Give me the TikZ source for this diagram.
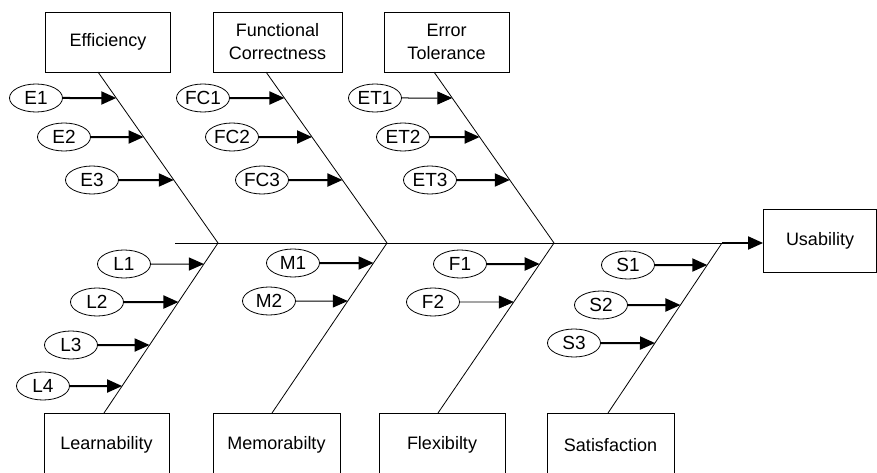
\documentclass[tikz,border=0pt]{standalone}
\usepackage{fontspec}
\setmainfont{Liberation Sans}
\usetikzlibrary{shapes.geometric,arrows.meta,calc}

\tikzset{
  catbox/.style={draw, line width=0.9pt, rectangle, inner sep=0pt, align=center,
                 font=\fontsize{18}{23}\selectfont},
  cause/.style={draw, ellipse, line width=0.8pt, inner sep=0pt,
                minimum width=53pt, minimum height=28pt,
                font=\fontsize{19}{20}\selectfont},
  bone/.style={line width=0.8pt},
  spine/.style={line width=0.9pt},
  heavy/.style={line width=2pt, -{Triangle[length=15pt,width=13pt]}},
  light/.style={line width=1pt, -{Triangle[length=15pt,width=13pt]}},
  faint/.style={line width=0.6pt, -{Triangle[length=15pt,width=13pt]}},
}

\begin{document}
\begin{tikzpicture}[x=1pt,y=-1pt]
\useasboundingbox (0,0) rectangle (877,473);
\clip (0,0) rectangle (877,473);

% category boxes above the spine
\node[catbox, minimum width=125pt, minimum height=60pt] (eff) at (108,42) {Efficiency};
\node[catbox, minimum width=129pt, minimum height=60pt] (fc)  at (277.5,42) {Functional\\Correctness};
\node[catbox, minimum width=125pt, minimum height=60pt] (et)  at (446.5,42) {Error\\Tolerance};

% category boxes below the spine (running off the lower edge)
\node[catbox, minimum width=125pt, minimum height=64pt] (lea)  at (106.5,445) {Learnability};
\node[catbox, minimum width=127pt, minimum height=64pt] (mem)  at (276.5,445) {Memorabilty};
\node[catbox, minimum width=126pt, minimum height=64pt] (flex) at (442,445) {Flexibilty};
\node[catbox, minimum width=127pt, minimum height=64pt] (sat)  at (610.5,445) {Satisfaction};

% effect box
\node[catbox, minimum width=113pt, minimum height=63pt] (usa) at (820,240.5) {Usability};

% spine joints and bone ends
\coordinate (s0) at (175,243);
\coordinate (j1) at (218,243);
\coordinate (j2) at (387,243);
\coordinate (j3) at (554,243);
\coordinate (j4) at (722,243);
\coordinate (b1) at (98,72);
\coordinate (b2) at (266,72);
\coordinate (b3) at (434,72);
\coordinate (c1) at (104,413);
\coordinate (c2) at (272,413);
\coordinate (c3) at (438,413);
\coordinate (c4) at (608,413);

% spine
\draw[spine] (s0) -- (j4);
\draw[heavy] (j4) -- (j4 -| usa.west);

% bones
\draw[bone] (b1) -- (j1);
\draw[bone] (b2) -- (j2);
\draw[bone] (b3) -- (j3);
\draw[bone] (c1) -- (j1);
\draw[bone] (c2) -- (j2);
\draw[bone] (c3) -- (j3);
\draw[bone] (c4) -- (j4);

% causes
\node[cause] (e1) at (36,98)  {E1};
\node[cause] (e2) at (64,137) {E2};
\node[cause] (e3) at (92,180) {E3};
\node[cause] (fc1) at (203,98)  {FC1};
\node[cause] (fc2) at (232,137) {FC2};
\node[cause] (fc3) at (262,180) {FC3};
\node[cause] (et1) at (375,98)  {ET1};
\node[cause] (et2) at (403,137) {ET2};
\node[cause] (et3) at (430,180) {ET3};
\node[cause] (l1) at (124,264) {L1};
\node[cause] (l2) at (97,302)  {L2};
\node[cause] (l3) at (71,345)  {L3};
\node[cause] (l4) at (43,386)  {L4};
\node[cause] (m1) at (293,263) {M1};
\node[cause] (m2) at (269,301) {M2};
\node[cause] (f1) at (460,264) {F1};
\node[cause] (f2) at (433,302) {F2};
\node[cause] (s1) at (628,265) {S1};
\node[cause] (s2) at (601,305) {S2};
\node[cause] (s3) at (574,343) {S3};

% cause arrows, each ending on its bone
\draw[heavy] (e1) -- (intersection of b1--j1 and e1.center--e1.east);
\draw[heavy] (e2) -- (intersection of b1--j1 and e2.center--e2.east);
\draw[heavy] (e3) -- (intersection of b1--j1 and e3.center--e3.east);
\draw[heavy] (fc1) -- (intersection of b2--j2 and fc1.center--fc1.east);
\draw[heavy] (fc2) -- (intersection of b2--j2 and fc2.center--fc2.east);
\draw[heavy] (fc3) -- (intersection of b2--j2 and fc3.center--fc3.east);
\draw[light] (et1) -- (intersection of b3--j3 and et1.center--et1.east);
\draw[heavy] (et2) -- (intersection of b3--j3 and et2.center--et2.east);
\draw[heavy] (et3) -- (intersection of b3--j3 and et3.center--et3.east);
\draw[light] (l1) -- (intersection of c1--j1 and l1.center--l1.east);
\draw[heavy] (l2) -- (intersection of c1--j1 and l2.center--l2.east);
\draw[heavy] (l3) -- (intersection of c1--j1 and l3.center--l3.east);
\draw[heavy] (l4) -- (intersection of c1--j1 and l4.center--l4.east);
\draw[heavy] (m1) -- (intersection of c2--j2 and m1.center--m1.east);
\draw[light] (m2) -- (intersection of c2--j2 and m2.center--m2.east);
\draw[heavy] (f1) -- (intersection of c3--j3 and f1.center--f1.east);
\draw[faint] (f2) -- (intersection of c3--j3 and f2.center--f2.east);
\draw[heavy] (s1) -- (intersection of c4--j4 and s1.center--s1.east);
\draw[heavy] (s2) -- (intersection of c4--j4 and s2.center--s2.east);
\draw[heavy] (s3) -- (intersection of c4--j4 and s3.center--s3.east);
\end{tikzpicture}
\end{document}
